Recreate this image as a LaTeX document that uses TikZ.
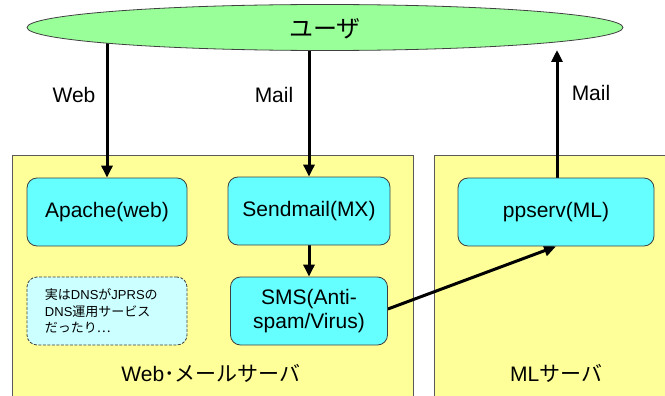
\documentclass[tikz,border=0pt]{standalone}
\usepackage{fontspec}
\setmainfont{Liberation Sans}
\newfontfamily\jp{Noto Sans CJK JP}
\usetikzlibrary{arrows.meta,shapes.geometric}
\definecolor{ygreen}{HTML}{99FF99}
\definecolor{yellowbox}{HTML}{FFFF99}
\definecolor{cyanbox}{HTML}{66FFFF}
\definecolor{notebox}{HTML}{CCFFFF}
\definecolor{edgegray}{HTML}{404040}
\pgfdeclarelayer{back}
\pgfdeclarelayer{mid}
\pgfsetlayers{back,mid,main}
\tikzset{
  svc/.style={draw=edgegray, line width=0.8pt, fill=cyanbox, rounded corners=10pt,
    minimum height=68pt, align=center, font=\fontsize{21}{24}\selectfont, inner sep=2pt},
  notebox/.style={svc, fill=notebox, dashed, dash pattern=on 3pt off 1.5pt,
    font=\fontsize{13}{16.5}\selectfont, align=left, text width=124pt, inner xsep=18pt},
  lbl/.style={font=\fontsize{21}{24}\selectfont, inner sep=0pt},
  flow/.style={line width=3pt, -{Triangle[length=12pt,width=11pt]}},
  srv/.style={fill=yellowbox},
  srvedge/.style={draw=gray!70!black, line width=0.7pt}
}
\begin{document}
\begin{tikzpicture}[x=1pt,y=-1pt]
\useasboundingbox (0,0) rectangle (665,396);
% server areas
\begin{pgfonlayer}{back}
\fill[white] (0,0) rectangle (665,396);
\fill[srv] (12,155) rectangle (413,397);
\draw[srvedge] (12,397) -- (12,155) -- (413,155) -- (413,397);
\fill[srv] (434,155) rectangle (666,397);
\draw[srvedge] (434,397) -- (434,155) -- (666,155);
\end{pgfonlayer}
% user ellipse
\node[ellipse, draw=edgegray, line width=0.8pt, fill=ygreen, minimum width=596pt,
  minimum height=46pt, inner sep=0pt] (user) at (325,27.5) {};
\node[font=\jp\fontsize{24}{28}\selectfont] (usertxt) at (325,29) {ユーザ};
% services
\node[svc, minimum width=160pt] (apache) at (107,212) {Apache(web)};
\node[svc, minimum width=162pt] (sendmail) at (309,211) {Sendmail(MX)};
\node[svc, minimum width=157pt] (sms) at (309,311) {SMS(Anti-\\spam/Virus)};
\node[notebox, minimum width=160pt] (note) at (107,311)
  {{\jp 実は}DNS{\jp が}JPRS{\jp の}\\DNS{\jp 運用サービス}\\{\jp だったり…}};
\node[svc, minimum width=196pt] (ppserv) at (556,212) {ppserv(ML)};
% labels
\node[lbl] (lweb) at (74,95) {Web};
\node[lbl] (lmail) at (274,95) {Mail};
\node[lbl] (lmail2) at (591,93) {Mail};
\node[lbl] (lwms) at (211,373) {Web{\jp ･メールサーバ}};
\node[lbl] (lml) at (556,373) {ML{\jp サーバ}};
% connectors
\coordinate (mlup) at (557,50);
\begin{pgfonlayer}{mid}
\draw[flow] (apache.north |- user.center) -- (apache.north);
\draw[flow] (sendmail.north |- user.center) -- (sendmail.north);
\draw[flow] (sendmail.south) -- (sms.north);
\draw[flow] ([yshift=2pt]sms.east) -- (ppserv.south);
\draw[flow] (ppserv.north -| mlup) -- (mlup);
\end{pgfonlayer}
\end{tikzpicture}
\end{document}
